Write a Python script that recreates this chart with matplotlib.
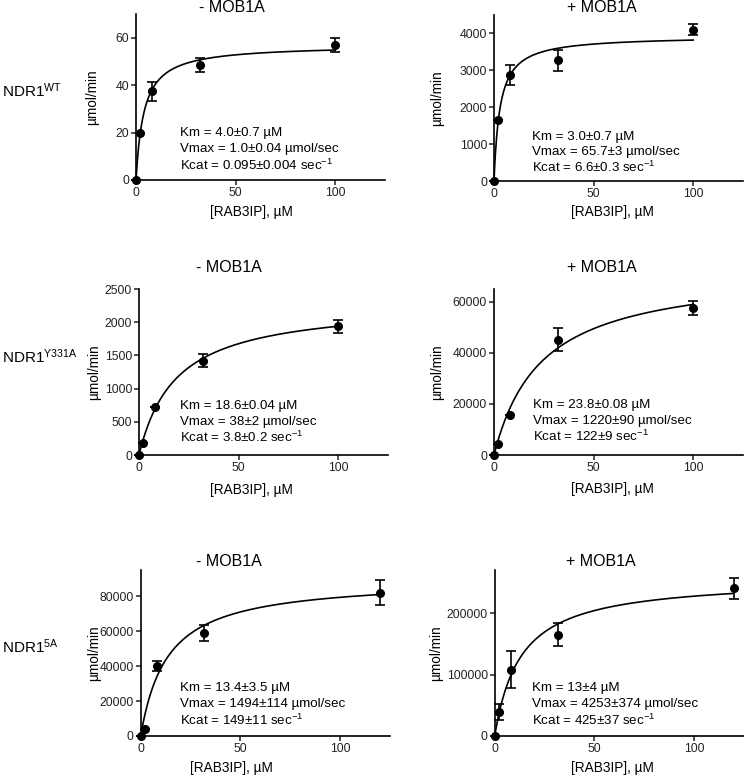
import numpy as np
import matplotlib
matplotlib.use("Agg")
import matplotlib.pyplot as plt

plt.rcParams['font.family'] = ['Liberation Sans', 'DejaVu Sans']
plt.rcParams['mathtext.default'] = 'regular'

# substrate concentrations, uM
conc_100 = [0, 2, 8, 32, 100]
conc_120 = [0, 2, 8, 32, 120]

# measured rates (umol/min) and errors
wt_minus = [0, 20, 37.5, 48.5, 57]
wt_minus_err = [0, 0, 4, 3, 3]
wt_plus = [0, 1650, 2870, 3270, 4100]
wt_plus_err = [0, 0, 265, 285, 150]
y331a_minus = [0, 175, 730, 1420, 1940]
y331a_minus_err = [0, 0, 0, 95, 100]
y331a_plus = [0, 4300, 15700, 45200, 57500]
y331a_plus_err = [0, 0, 0, 4600, 2750]
m5a_minus = [0, 4000, 40000, 59000, 82000]
m5a_minus_err = [0, 0, 3000, 4500, 7000]
m5a_plus = [0, 39000, 108000, 165000, 240000]
m5a_plus_err = [0, 12500, 30000, 19000, 17000]

# Michaelis-Menten fits (Km, Vmax in plotted units)
km = [4.0, 3.0, 18.6, 23.8, 13.4, 13.0]
vmax = [57, 3935, 2300, 73000, 90000, 257000]

row_labels = ['NDR1$^{WT}$', 'NDR1$^{Y331A}$', 'NDR1$^{5A}$']
titles = ['- MOB1A', '+ MOB1A']
yticks = [[0, 20, 40, 60], [0, 1000, 2000, 3000, 4000],
          [0, 500, 1000, 1500, 2000, 2500], [0, 20000, 40000, 60000],
          [0, 20000, 40000, 60000, 80000], [0, 100000, 200000]]
ylims = [70, 4500, 2500, 65000, 95000, 270000]
notes = [
    ['Km = 4.0±0.7 µM', 'Vmax = 1.0±0.04 µmol/sec', 'Kcat = 0.095±0.004 sec$^{-1}$'],
    ['Km = 3.0±0.7 µM', 'Vmax = 65.7±3 µmol/sec', 'Kcat = 6.6±0.3 sec$^{-1}$'],
    ['Km = 18.6±0.04 µM', 'Vmax = 38±2 µmol/sec', 'Kcat = 3.8±0.2 sec$^{-1}$'],
    ['Km = 23.8±0.08 µM', 'Vmax = 1220±90 µmol/sec', 'Kcat = 122±9 sec$^{-1}$'],
    ['Km = 13.4±3.5 µM', 'Vmax = 1494±114 µmol/sec', 'Kcat = 149±11 sec$^{-1}$'],
    ['Km = 13±4 µM', 'Vmax = 4253±374 µmol/sec', 'Kcat = 425±37 sec$^{-1}$'],
]

series = [(conc_100, wt_minus, wt_minus_err), (conc_100, wt_plus, wt_plus_err),
          (conc_100, y331a_minus, y331a_minus_err), (conc_100, y331a_plus, y331a_plus_err),
          (conc_120, m5a_minus, m5a_minus_err), (conc_120, m5a_plus, m5a_plus_err)]

# layout in pixels: (left, bottom, top)
W, H = 744, 776
boxes = [(136, 180, 14), (494, 181, 15), (139, 455, 289),
         (494, 455, 289), (140.7, 736, 570), (494.7, 736, 570)]
note_pos = [(0.176, [0.283, 0.187, 0.09]), (0.152, [0.267, 0.173, 0.08]),
            (0.164, [0.297, 0.2, 0.104]), (0.156, [0.301, 0.205, 0.11]),
            (0.157, [0.287, 0.191, 0.096]), (0.149, [0.287, 0.191, 0.096])]
ylab_x = [-0.176, -0.228, -0.18, -0.228, -0.187, -0.235]
xlab_pos = [(0.464, -0.193), (0.475, -0.185), (0.45, -0.211),
            (0.476, -0.207), (0.366, -0.193), (0.473, -0.193)]
title_pos = [(232, 8), (602, 8), (229, 267), (602, 267), (229, 562), (601, 562)]
row_y = [91, 357, 647]

fig = plt.figure(figsize=(W / 100, H / 100), dpi=100)

for i in range(6):
    l, b, t = boxes[i]
    ax = fig.add_axes([l / W, 1 - b / H, 249 / W, (b - t) / H])
    x, y, e = series[i]
    ax.errorbar(x, y, yerr=e, fmt='o', color='black', ms=5.5, capsize=3.8,
                elinewidth=1.2, capthick=1.2, clip_on=False, zorder=3)
    xs = np.linspace(0, x[-1], 300)
    ax.plot(xs, vmax[i] * xs / (km[i] + xs), color='black', lw=1.2, clip_on=False)
    ax.set_xlim(0, 125)
    ax.set_ylim(0, ylims[i])
    ax.set_xticks([0, 50, 100])
    ax.set_yticks(yticks[i])
    for s in ['top', 'right']:
        ax.spines[s].set_visible(False)
    for s in ['left', 'bottom']:
        ax.spines[s].set_linewidth(1.2)
    ax.tick_params(direction='out', length=3.5, width=1.1, labelsize=8.8, pad=1.5,
                   colors='#222222')
    ax.set_ylabel('µmol/min', fontsize=9.8, va='center')
    ax.yaxis.set_label_coords(ylab_x[i], 0.5)
    ax.set_xlabel('[RAB3IP], µM', fontsize=9.8, va='center')
    ax.xaxis.set_label_coords(*xlab_pos[i])
    nx, nys = note_pos[i]
    for txt, ny in zip(notes[i], nys):
        ax.text(nx, ny, txt, transform=ax.transAxes, fontsize=9.6, va='center')
    tx, ty = title_pos[i]
    fig.text(tx / W, 1 - ty / H, titles[i % 2], fontsize=11.5, ha='center', va='center')

for lab, ry in zip(row_labels, row_y):
    fig.text(2 / W, 1 - ry / H, lab, fontsize=11, ha='left', va='center')

fig.savefig('out.png', dpi=100)
